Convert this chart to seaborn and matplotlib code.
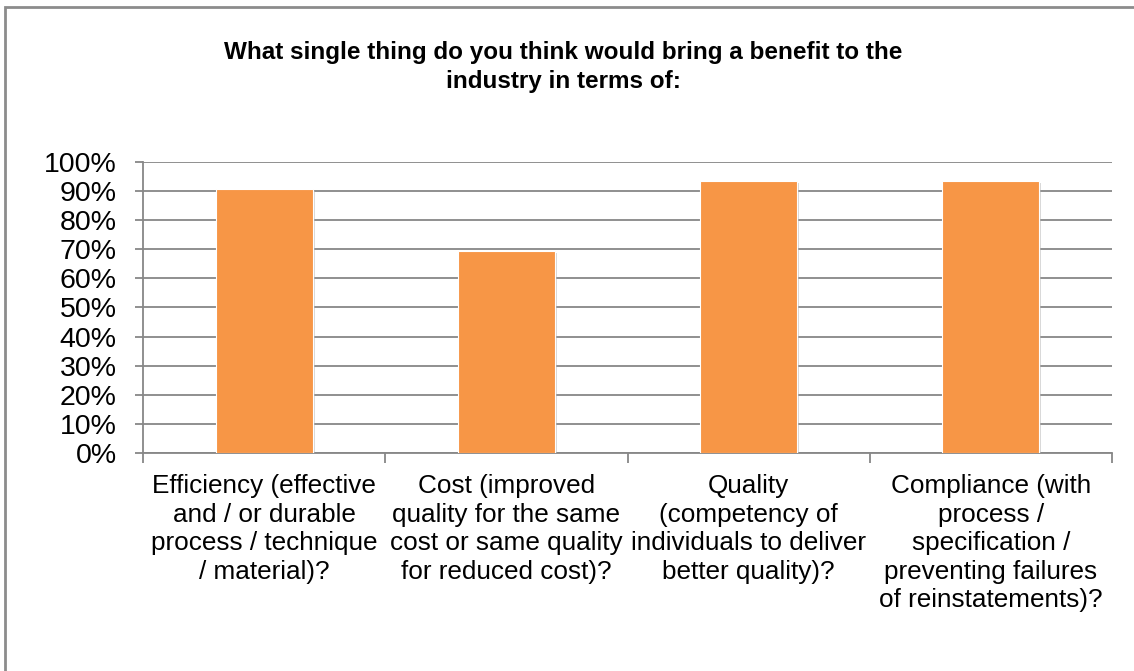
import matplotlib
matplotlib.use("Agg")
import matplotlib.pyplot as plt
import matplotlib.patheffects as pe
from matplotlib.patches import Rectangle
import seaborn as sns
import pandas as pd

categories = [
    "Efficiency (effective\nand / or durable\nprocess / technique\n/ material)?",
    "Cost (improved\nquality for the same\ncost or same quality\nfor reduced cost)?",
    "Quality\n(competency of\nindividuals to deliver\nbetter quality)?",
    "Compliance (with\nprocess /\nspecification /\npreventing failures\nof reinstatements)?",
]
shares = [0.905, 0.694, 0.934, 0.934]
y_ticks = [0.0, 0.1, 0.2, 0.3, 0.4, 0.5, 0.6, 0.7, 0.8, 0.9, 1.0]
y_tick_labels = ["0%", "10%", "20%", "30%", "40%", "50%", "60%", "70%", "80%", "90%", "100%"]
title = "What single thing do you think would bring a benefit to the\nindustry in terms of:"

sns.set_theme(style="white")
plt.rcParams["font.family"] = ["Liberation Sans", "DejaVu Sans"]
plt.rcParams["text.color"] = "black"

df = pd.DataFrame({"category": categories, "share": shares})

fig = plt.figure(figsize=(11.34, 6.71), dpi=100)
ax = fig.add_axes([143 / 1134, 1 - 453.3 / 671, (1112 - 143) / 1134, 291.8 / 671])

grid_col = "#878787"
sns.barplot(data=df, x="category", y="share", color="#F79646", saturation=1,
            width=0.4, edgecolor="white", linewidth=0.8, ax=ax, zorder=3)
for bar in ax.patches:
    bar.set_path_effects([pe.SimplePatchShadow(offset=(1.5, -1.5), shadow_rgbFace="#b0b0b0", alpha=0.5), pe.Normal()])

ax.set_ylim(0, 1.0)
ax.set_xlim(-0.5, 3.5)
ax.set_yticks(y_ticks)
ax.set_yticklabels(y_tick_labels)
ax.yaxis.grid(True, color=grid_col, linewidth=1.3, zorder=0)
ax.set_axisbelow(True)
ax.set_xlabel("")
ax.set_ylabel("")

for side in ["top", "right"]:
    ax.spines[side].set_visible(False)
for side in ["left", "bottom"]:
    ax.spines[side].set_color(grid_col)
    ax.spines[side].set_linewidth(1.3)

# category boundary ticks on x, centred labels between them
ax.set_xticks([-0.5, 0.5, 1.5, 2.5, 3.5])
ax.set_xticklabels([])
ax.set_xticks([0, 1, 2, 3], minor=True)
ax.set_xticklabels(categories, minor=True, fontsize=18.8, linespacing=1.235,
                   ha="center", va="top")
ax.tick_params(axis="x", which="major", direction="out", length=7, width=1.3,
               color=grid_col, bottom=True)
ax.tick_params(axis="x", which="minor", length=0, pad=15, labelcolor="black")
ax.tick_params(axis="y", direction="out", length=6, width=1.3, color=grid_col,
               left=True, pad=13, labelsize=20.5, labelcolor="black")

fig.text(0.497, 1 - 41 / 671, title, ha="center", va="top", fontsize=17.5,
         fontweight="bold", linespacing=1.35, color="black")

# outer chart frame
fig.patches.append(Rectangle((5 / 1134, -0.1), 1.2, 1 - 6.5 / 671 + 0.1,
                             transform=fig.transFigure, fill=False,
                             edgecolor="#8c8c8c", linewidth=2, zorder=0))

fig.savefig("out.png", dpi=100)
